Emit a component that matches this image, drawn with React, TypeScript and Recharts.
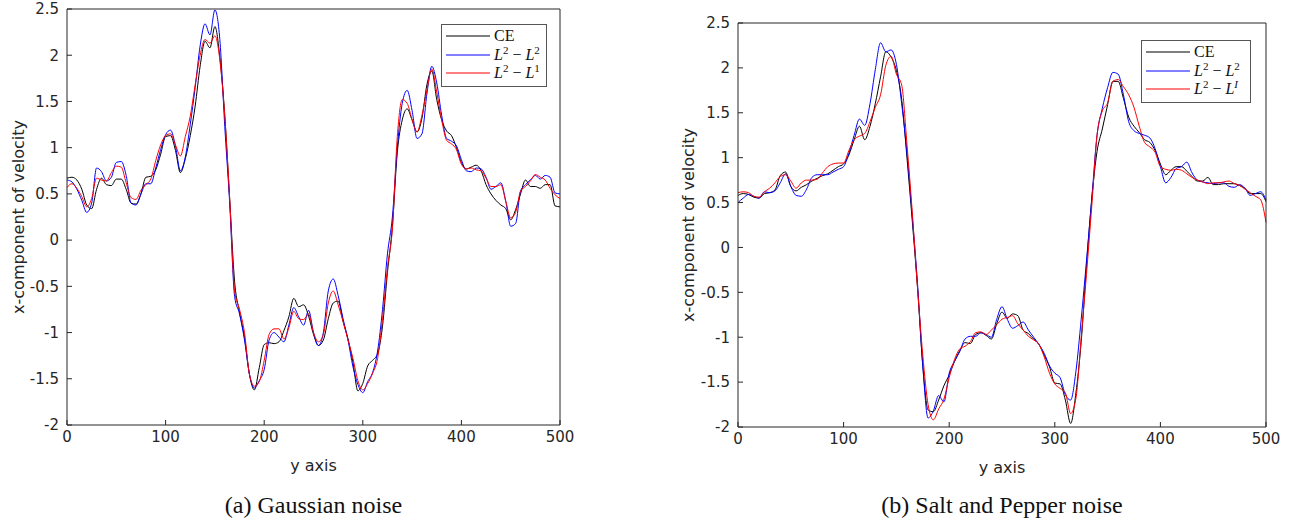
import { LineChart, Line, XAxis, YAxis, Legend } from 'recharts';

// sample positions along the y axis (step 5)
const yPos = [
  0, 5, 10, 15, 20, 25, 30, 35, 40, 45, 50, 55, 60, 65, 70, 75, 80, 85, 90, 95,
  100, 105, 110, 115, 120, 125, 130, 135, 140, 145, 150, 155, 160, 165, 170, 175, 180, 185, 190, 195,
  200, 205, 210, 215, 220, 225, 230, 235, 240, 245, 250, 255, 260, 265, 270, 275, 280, 285, 290, 295,
  300, 305, 310, 315, 320, 325, 330, 335, 340, 345, 350, 355, 360, 365, 370, 375, 380, 385, 390, 395,
  400, 405, 410, 415, 420, 425, 430, 435, 440, 445, 450, 455, 460, 465, 470, 475, 480, 485, 490, 495,
  500,
];

// (a) Gaussian noise
const gaussCE = [
  0.67, 0.68, 0.65, 0.55, 0.38, 0.34, 0.55, 0.67, 0.6, 0.59, 0.66, 0.66, 0.55, 0.4, 0.39, 0.5, 0.68, 0.69, 0.76, 0.93,
  1.12, 1.13, 0.97, 0.73, 0.88, 1.13, 1.45, 1.88, 2.15, 2.08, 2.31, 1.98, 1.35, 0.44, -0.45, -0.78, -1.05, -1.45, -1.62, -1.38,
  -1.13, -1.11, -1.12, -1.1, -0.98, -0.83, -0.63, -0.72, -0.7, -0.82, -1.02, -1.14, -1.08, -0.85, -0.68, -0.66, -0.88, -1.07, -1.32, -1.63,
  -1.55, -1.36, -1.3, -1.23, -0.93, -0.35, 0.15, 0.95, 1.3, 1.42, 1.3, 1.17, 1.32, 1.68, 1.83, 1.52, 1.3, 1.18, 1.13, 1.0,
  0.84, 0.77, 0.79, 0.81, 0.75, 0.6, 0.5, 0.43, 0.38, 0.34, 0.22, 0.33, 0.5, 0.65, 0.58, 0.58, 0.56, 0.6, 0.6, 0.37,
  0.36,
];
const gaussL2L2 = [
  0.65, 0.63, 0.55, 0.43, 0.3, 0.4, 0.78, 0.74, 0.64, 0.68, 0.84, 0.85, 0.7, 0.4, 0.38, 0.5, 0.61, 0.61, 0.78, 0.98,
  1.14, 1.19, 1.02, 0.75, 0.9, 1.25, 1.65, 2.1, 2.34, 2.22, 2.49, 2.17, 1.23, 0.4, -0.61, -0.8, -1.08, -1.45, -1.6, -1.52,
  -1.4, -1.08, -1.0, -1.05, -1.1, -0.92, -0.73, -0.83, -0.92, -0.76, -1.0, -1.14, -1.0, -0.55, -0.42, -0.6, -0.85, -1.08, -1.37, -1.56,
  -1.65, -1.53, -1.43, -1.2, -0.75, -0.15, 0.25, 1.0, 1.48, 1.62, 1.4, 1.1, 1.15, 1.58, 1.88, 1.7, 1.35, 1.1, 1.07, 1.02,
  0.87, 0.75, 0.74, 0.78, 0.77, 0.68, 0.55, 0.58, 0.62, 0.42, 0.15, 0.18, 0.53, 0.6, 0.65, 0.7, 0.66, 0.7, 0.68, 0.51,
  0.5,
];
const gaussL2L1 = [
  0.57, 0.61, 0.56, 0.47, 0.36, 0.45, 0.67, 0.65, 0.64, 0.73, 0.8, 0.79, 0.62, 0.46, 0.44, 0.54, 0.6, 0.66, 0.86, 1.03,
  1.13, 1.15, 1.03, 0.91, 1.12, 1.34, 1.68, 2.0, 2.17, 2.13, 2.21, 1.95, 1.34, 0.45, -0.55, -0.75, -1.0, -1.45, -1.58, -1.53,
  -1.3, -1.02, -0.96, -0.96, -1.07, -0.95, -0.77, -0.85, -0.86, -0.8, -1.0, -1.1, -1.02, -0.68, -0.55, -0.7, -0.88, -1.08, -1.28, -1.52,
  -1.62, -1.55, -1.44, -1.28, -0.85, -0.3, 0.12, 1.12, 1.52, 1.48, 1.3, 1.17, 1.35, 1.62, 1.85, 1.6, 1.3, 1.08, 1.04, 0.98,
  0.82, 0.77, 0.78, 0.76, 0.75, 0.67, 0.58, 0.58, 0.6, 0.42, 0.24, 0.3, 0.53, 0.58, 0.64, 0.71, 0.68, 0.65, 0.56, 0.49,
  0.45,
];

// (b) Salt and Pepper noise
const spCE = [
  0.58, 0.6, 0.59, 0.56, 0.55, 0.6, 0.61, 0.64, 0.8, 0.84, 0.68, 0.63, 0.67, 0.7, 0.74, 0.77, 0.8, 0.82, 0.86, 0.9,
  0.93, 1.03, 1.2, 1.35, 1.2, 1.35, 1.6, 1.9, 2.18, 2.12, 1.97, 1.65, 1.0, 0.3, -0.45, -1.32, -1.81, -1.83, -1.7, -1.54,
  -1.42, -1.27, -1.15, -1.06, -1.07, -0.97, -0.95, -0.98, -1.02, -0.85, -0.72, -0.79, -0.74, -0.76, -0.92, -0.96, -1.02, -1.08, -1.2, -1.33,
  -1.51, -1.52, -1.7, -1.96, -1.62, -1.05, -0.2, 0.54, 1.07, 1.32, 1.59, 1.85, 1.85, 1.66, 1.45, 1.35, 1.28, 1.2, 1.17, 1.08,
  0.93, 0.81, 0.86, 0.9, 0.9, 0.85, 0.79, 0.74, 0.74, 0.78, 0.7, 0.7, 0.71, 0.71, 0.71, 0.69, 0.66, 0.6, 0.6, 0.6,
  0.51,
];
const spL2L2 = [
  0.5, 0.55, 0.59, 0.57, 0.55, 0.62, 0.61, 0.63, 0.72, 0.82, 0.68, 0.58, 0.57, 0.65, 0.78, 0.81, 0.81, 0.81, 0.84, 0.87,
  0.9, 1.05, 1.25, 1.43, 1.36, 1.6, 1.98, 2.28, 2.18, 2.2, 2.04, 1.6, 1.05, 0.35, -0.4, -1.32, -1.9, -1.82, -1.65, -1.72,
  -1.4, -1.27, -1.16, -1.02, -0.99, -0.99, -0.95, -0.97, -1.0, -0.8, -0.66, -0.8, -0.9, -0.87, -0.83, -0.92, -1.0, -1.08, -1.18, -1.32,
  -1.4, -1.45, -1.64, -1.7, -1.38, -0.8, -0.15, 0.54, 1.25, 1.55, 1.78, 1.95, 1.93, 1.7, 1.4, 1.3, 1.27, 1.25, 1.22, 1.1,
  0.9, 0.72, 0.78, 0.88, 0.9, 0.95, 0.83, 0.75, 0.73, 0.72, 0.71, 0.72, 0.72, 0.68, 0.67, 0.7, 0.66, 0.58, 0.6, 0.62,
  0.53,
];
const spL2L1 = [
  0.61, 0.62, 0.61, 0.57, 0.56, 0.62, 0.66, 0.72, 0.79, 0.81, 0.74, 0.66, 0.72, 0.75, 0.75, 0.76, 0.83, 0.9, 0.93, 0.94,
  0.94, 1.08, 1.2, 1.24, 1.27, 1.4, 1.56, 1.7, 2.03, 2.13, 1.93, 1.81, 1.15, 0.4, -0.45, -1.2, -1.75, -1.92, -1.8, -1.69,
  -1.45, -1.25, -1.13, -1.1, -1.05, -0.95, -0.94, -0.97, -0.92, -0.86, -0.8, -0.78, -0.76, -0.85, -0.92, -0.99, -1.03, -1.08, -1.22, -1.4,
  -1.52, -1.57, -1.62, -1.85, -1.68, -1.0, -0.3, 0.46, 1.25, 1.52, 1.61, 1.85, 1.87, 1.79, 1.7, 1.56, 1.35, 1.17, 1.12, 1.06,
  0.9, 0.87, 0.86, 0.87, 0.86, 0.82, 0.78, 0.75, 0.73, 0.71, 0.72, 0.72, 0.73, 0.74, 0.71, 0.69, 0.65, 0.61, 0.57, 0.53,
  0.28,
];

const xTicks = [0, 100, 200, 300, 400, 500];
const yTicks = [-2, -1.5, -1, -0.5, 0, 0.5, 1, 1.5, 2, 2.5];
const seriesOrder = ['ce', 'l2l2', 'l2l1'];

const AXIS = '#262626';
const SANS = '"DejaVu Sans", sans-serif';
const SERIF = '"Liberation Serif", "DejaVu Serif", serif';
const tickStyle = { fontSize: 15, fill: '#262626', fontFamily: SANS };

const toRows = (ce: number[], a: number[], b: number[]) =>
  yPos.map((y, i) => ({ y, ce: ce[i], l2l2: a[i], l2l1: b[i] }));

function Norm({ sup }: { sup: string }) {
  const supStyle = { fontSize: 11, verticalAlign: 6, lineHeight: 0 };
  return (
    <span>
      <i>L</i>
      <sup style={supStyle}>2</sup>
      {' \u2212 '}
      <i>L</i>
      <sup style={{ ...supStyle, fontStyle: sup === 'I' ? 'italic' : 'normal' }}>{sup}</sup>
    </span>
  );
}

function LegendBox({ payload, lastSup }: any) {
  const items = [...(payload || [])].sort(
    (a: any, b: any) => seriesOrder.indexOf(a.dataKey) - seriesOrder.indexOf(b.dataKey)
  );
  return (
    <div
      style={{
        border: '1px solid #555',
        background: '#fff',
        padding: '2px 3px 3px 4px',
        fontFamily: SERIF,
        fontSize: 16,
        color: '#111',
        lineHeight: '18.5px',
        whiteSpace: 'nowrap',
      }}
    >
      {items.map((entry: any) => (
        <div key={entry.dataKey} style={{ display: 'flex', alignItems: 'center' }}>
          <svg width={44} height={10}>
            <line x1={0} y1={5} x2={44} y2={5} stroke={entry.color} strokeWidth={1.2} />
          </svg>
          <span style={{ marginLeft: 4 }}>
            {entry.dataKey === 'ce' ? 'CE' : <Norm sup={entry.dataKey === 'l2l2' ? '2' : lastSup} />}
          </span>
        </div>
      ))}
    </div>
  );
}

interface PanelProps {
  rows: { y: number; ce: number; l2l2: number; l2l1: number }[];
  left: number;
  width: number;
  margin: { top: number; right: number; bottom: number; left: number };
  labelOffset: number;
  legendPos: { left: number; top: number; width: number };
  lastSup: string;
  caption: string;
}

function Panel({ rows, left, width, margin, labelOffset, legendPos, lastSup, caption }: PanelProps) {
  const plotMid = margin.left + 60 + (width - margin.left - margin.right - 61) / 2;
  return (
    <div style={{ position: 'absolute', left, top: 0, width, height: 529 }}>
      <LineChart width={width} height={480} data={rows} margin={margin}>
        <XAxis
          dataKey="y"
          type="number"
          domain={[0, 500]}
          ticks={xTicks}
          height={50}
          tickSize={-5}
          tickMargin={11}
          stroke={AXIS}
          tick={tickStyle}
          label={{ value: 'y axis', position: 'insideBottom', offset: 4, style: { fontSize: 16, fill: AXIS, fontFamily: SANS } }}
        />
        <XAxis xAxisId="top" orientation="top" type="number" domain={[0, 500]} ticks={xTicks} tick={false} tickSize={-5} height={1} stroke={AXIS} />
        <YAxis
          type="number"
          domain={[-2, 2.5]}
          ticks={yTicks}
          allowDataOverflow
          width={60}
          tickSize={-5}
          tickMargin={13}
          stroke={AXIS}
          tick={tickStyle}
          label={{
            value: 'x-component of velocity',
            angle: -90,
            position: 'insideLeft',
            offset: labelOffset,
            style: { textAnchor: 'middle', fontSize: 16, fill: AXIS, fontFamily: SANS },
          }}
        />
        <YAxis yAxisId="right" orientation="right" type="number" domain={[-2, 2.5]} ticks={yTicks} tick={false} tickSize={-5} width={1} stroke={AXIS} />
        <Legend
          layout="vertical"
          align="center"
          verticalAlign="middle"
          wrapperStyle={{ left: legendPos.left, top: legendPos.top, width: legendPos.width }}
          content={(p: any) => <LegendBox payload={p.payload} lastSup={lastSup} />}
        />
        <Line type="monotone" dataKey="ce" name="CE" stroke="#000000" strokeWidth={1} dot={false} isAnimationActive={false} />
        <Line type="monotone" dataKey="l2l2" name="L2-L2" stroke="#0000ff" strokeWidth={1} dot={false} isAnimationActive={false} />
        <Line type="monotone" dataKey="l2l1" name="L2-L1" stroke="#ff0000" strokeWidth={1} dot={false} isAnimationActive={false} />
      </LineChart>
      <div
        style={{
          position: 'absolute',
          left: plotMid - 200,
          width: 400,
          top: 492,
          fontFamily: SERIF,
          fontSize: 24,
          color: '#111',
          textAlign: 'center',
        }}
      >
        {caption}
      </div>
    </div>
  );
}

export default function App() {
  return (
    <div style={{ position: 'absolute', left: 0, top: 0, width: 1305, height: 529, background: '#fff' }}>
      <Panel
        rows={toRows(gaussCE, gaussL2L2, gaussL2L1)}
        left={0}
        width={600}
        margin={{ top: 8, right: 39, bottom: 5, left: 7 }}
        labelOffset={11}
        legendPos={{ left: 441, top: 24, width: 106 }}
        lastSup="1"
        caption="(a) Gaussian noise"
      />
      <Panel
        rows={toRows(spCE, spL2L2, spL2L1)}
        left={670}
        width={630}
        margin={{ top: 22, right: 33, bottom: 3, left: 8 }}
        labelOffset={10}
        legendPos={{ left: 471, top: 40, width: 110 }}
        lastSup="I"
        caption="(b) Salt and Pepper noise"
      />
    </div>
  );
}
